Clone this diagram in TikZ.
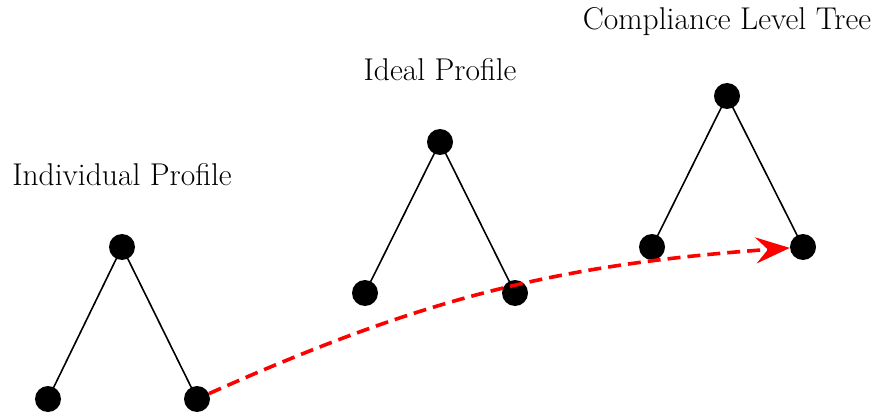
\documentclass[tikz,border=0pt]{standalone}
\usetikzlibrary{arrows.meta}
\begin{document}
\begin{tikzpicture}[x=1pt,y=-1pt,
  dot/.style={circle,fill=black,inner sep=0pt,minimum size=26pt},
  edge/.style={line width=1.6pt},
  lbl/.style={font=\fontsize{31.5}{36}\selectfont,inner sep=0pt},
  flow/.style={red,line width=3.6pt,dash pattern=on 13pt off 7pt,-{Stealth[length=34pt,width=26pt,inset=12pt]}}]
\useasboundingbox (0,0) rectangle (881,417);
% tree 1
\node[dot] (r1) at (122,247) {};
\node[dot] (a1) at (48,399) {};
\node[dot] (b1) at (197,399) {};
\node[lbl] (t1) at (122,175) {Individual Profile};
% tree 2
\node[dot] (r2) at (440,142) {};
\node[dot] (a2) at (365,293) {};
\node[dot] (b2) at (515,293) {};
\node[lbl] (t2) at (440,70) {Ideal Profile};
% tree 3
\node[dot] (r3) at (727,96) {};
\node[dot] (a3) at (652,247) {};
\node[dot] (b3) at (803,247) {};
\node[lbl] (t3) at (727,22) {Compliance Level Tree};
\draw[edge] (r1.center) -- (a1.center) (r1.center) -- (b1.center);
\draw[edge] (r2.center) -- (a2.center) (r2.center) -- (b2.center);
\draw[edge] (r3.center) -- (a3.center) (r3.center) -- (b3.center);
\draw[flow] (b1) to[bend left=10] (b3);
\end{tikzpicture}
\end{document}
